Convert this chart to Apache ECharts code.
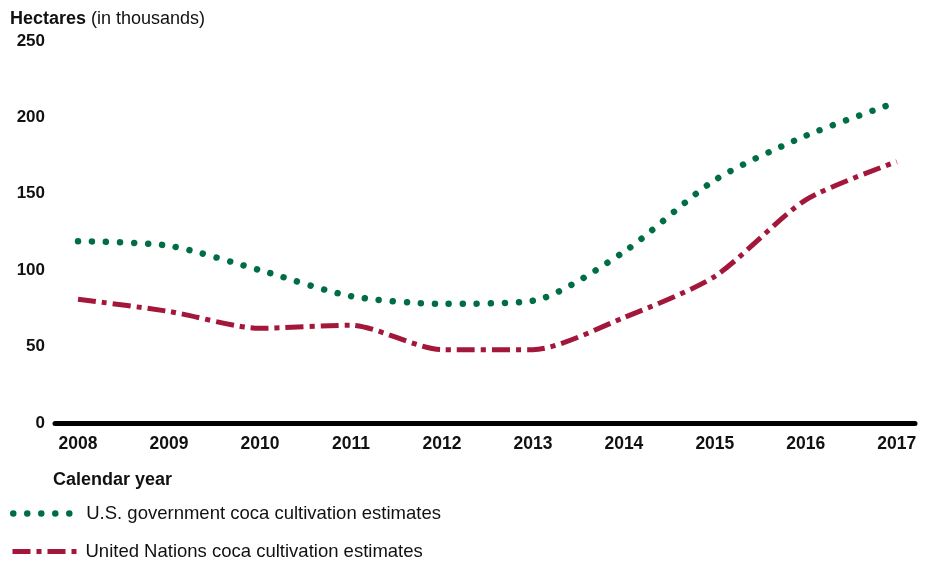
<!DOCTYPE html>
<html><head><meta charset="utf-8">
<script src="https://cdn.jsdelivr.net/npm/echarts@6/dist/echarts.min.js"></script>
<style>html,body{margin:0;padding:0;background:#fff}#c{width:937px;height:564px}</style>
</head><body><div id="c"></div>
<script>
const years = [2008, 2009, 2010, 2011, 2012, 2013, 2014, 2015, 2016, 2017];
const usEstimates = [119, 116, 100, 83, 78, 80, 112, 159, 188, 210];
const unEstimates = [81, 73, 62, 64, 48, 48, 69, 96, 146, 171];
const yTicks = [0, 50, 100, 150, 200, 250];
const usName = 'U.S. government coca cultivation estimates';
const unName = 'United Nations coca cultivation estimates';
const font = 'Arial, "Liberation Sans", Helvetica, sans-serif';
const green = '#006e42';
const red = '#a3183a';
const usDash = [0.01, 14];
const unDash = [18, 6, 5, 6];

const legendCommon = {
  left: 5, itemWidth: 66, itemHeight: 14, itemGap: 0,
  textStyle: {fontFamily: font, fontSize: 18.5, color: '#111', padding: [0, 0, 0, 2]},
  itemStyle: {opacity: 0}
};

const chart = echarts.init(document.getElementById('c'), null, {renderer: 'canvas'});
chart.setOption({
  animation: false,
  textStyle: {fontFamily: font},
  title: {
    left: 5, top: 5,
    text: '{b|Hectares} {n|(in thousands)}',
    textStyle: {rich: {
      b: {fontFamily: font, fontWeight: 'bold', fontSize: 18, color: '#111'},
      n: {fontFamily: font, fontWeight: 'normal', fontSize: 18, color: '#111'}
    }}
  },
  graphic: [{
    type: 'text', left: 53, top: 471,
    style: {text: 'Calendar year', font: 'bold 18px ' + font, fill: '#111'}
  }],
  legend: [
    Object.assign({}, legendCommon, {
      top: 499,
      data: [{name: usName, lineStyle: {color: green, width: 6.5, type: usDash, cap: 'round'}}]
    }),
    Object.assign({}, legendCommon, {
      top: 537,
      data: [{name: unName, lineStyle: {color: red, width: 5, type: unDash, cap: 'butt'}}]
    })
  ],
  grid: {left: 55, right: 22, top: 41, bottom: 141, containLabel: false},
  xAxis: {
    type: 'value', min: 2007.747, max: 2017.2,
    axisLine: {show: true, lineStyle: {color: '#000', width: 5}},
    axisTick: {show: false},
    splitLine: {show: false},
    axisLabel: {
      customValues: years, margin: 12,
      fontFamily: font, fontWeight: 'bold', fontSize: 17.5, color: '#111',
      formatter: v => String(v)
    }
  },
  yAxis: {
    type: 'value', min: 0, max: 250, interval: 50,
    axisLine: {show: false}, axisTick: {show: false}, splitLine: {show: false},
    axisLabel: {margin: 10, fontFamily: font, fontWeight: 'bold', fontSize: 17, color: '#111',
      customValues: yTicks}
  },
  series: [
    {
      name: unName, type: 'line', smooth: 0.25, symbol: 'none',
      data: years.map((y, i) => [y, unEstimates[i]]),
      color: red,
      lineStyle: {color: red, width: 5, type: unDash, cap: 'butt'}
    },
    {
      name: usName, type: 'line', smooth: 0.25, symbol: 'none',
      data: years.map((y, i) => [y, usEstimates[i]]),
      color: green,
      lineStyle: {color: green, width: 6.5, type: usDash, cap: 'round'}
    }
  ]
});
</script></body></html>
